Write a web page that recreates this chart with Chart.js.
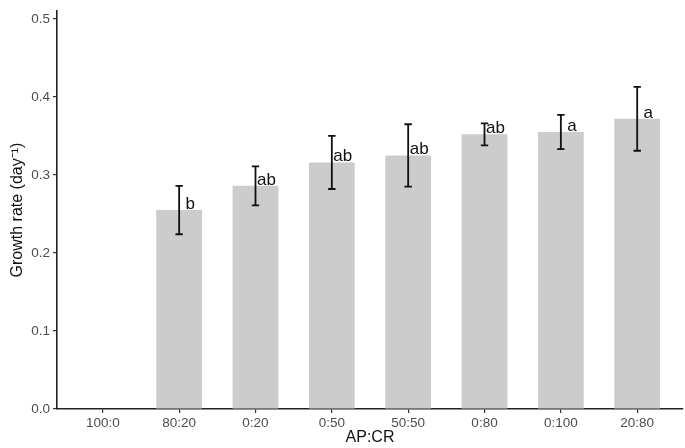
<!DOCTYPE html>
<html>
<head>
<meta charset="utf-8">
<script src="https://cdn.jsdelivr.net/npm/chart.js@4"></script>
<style>
  body { margin: 0; background: #fff; }
  .chart-box { width: 685px; height: 448px; }
</style>
</head>
<body>
<div class="chart-box"><canvas id="myChart01"></canvas></div>
<script>
// ----------------데이터----------------
const categories = ["100:0", "80:20", "0:20", "0:50", "50:50", "0:80", "0:100", "20:80"];
const growthMean = [null, 0.255, 0.286, 0.316, 0.325, 0.352, 0.355, 0.372];
const growthErr = [null, 0.031, 0.025, 0.034, 0.040, 0.014, 0.022, 0.041];
const letters = ["", "b", "ab", "ab", "ab", "ab", "a", "a"];
const yTicks = [0, 0.1, 0.2, 0.3, 0.4, 0.5];

Chart.defaults.font.family = "'Liberation Sans', Arial, sans-serif";

// 에러바 + 유의성 문자
const errorBarPlugin = {
  id: "errorBars",
  afterDatasetsDraw(chart) {
    const { ctx, scales } = chart;
    const x = scales.x;
    const y = scales.y;
    ctx.save();
    categories.forEach((c, i) => {
      if (growthMean[i] == null) return;
      const px = x.getPixelForValue(i);
      const top = y.getPixelForValue(growthMean[i] + growthErr[i]);
      const bot = y.getPixelForValue(growthMean[i] - growthErr[i]);
      ctx.strokeStyle = "#111";
      ctx.lineWidth = 1.8;
      ctx.beginPath();
      ctx.moveTo(px, top);
      ctx.lineTo(px, bot);
      ctx.moveTo(px - 3.7, top);
      ctx.lineTo(px + 3.7, top);
      ctx.moveTo(px - 3.7, bot);
      ctx.lineTo(px + 3.7, bot);
      ctx.stroke();

      // 문자 (에러바 오른쪽, 막대 윗면 기준)
      ctx.fillStyle = "#111";
      ctx.font = "17px 'Liberation Sans', Arial, sans-serif";
      ctx.textAlign = "center";
      ctx.textBaseline = "alphabetic";
      ctx.fillText(letters[i], px + 11, y.getPixelForValue(growthMean[i]) - 1);
    });
    ctx.restore();
  },
};

const config = {
  type: "bar",
  data: {
    datasets: [
      {
        data: categories.map((c, i) => ({ x: i, y: growthMean[i] })),
        backgroundColor: "#cccccc",
        barPercentage: 0.6,
        categoryPercentage: 1,
      },
    ],
  },
  options: {
    maintainAspectRatio: false,
    responsive: true,
    animation: false,
    layout: { padding: { top: 0, right: 2, bottom: 0, left: 0 } },
    plugins: {
      legend: { display: false },
      tooltip: { enabled: false },
    },
    scales: {
      x: {
        type: "linear",
        min: -0.6,
        max: 7.6,
        offset: false,
        afterBuildTicks(scale) {
          scale.ticks = categories.map((c, i) => ({ value: i }));
        },
        afterFit(scale) {
          scale.height = 39;
        },
        ticks: {
          callback: (v) => categories[v],
          color: "#4d4d4d",
          font: { size: 13.5 },
          padding: 2,
          maxRotation: 0,
          autoSkip: false,
        },
        grid: {
          offset: false,
          drawOnChartArea: false,
          tickLength: 4,
          color: "#333",
          lineWidth: 1.2,
        },
        border: { display: true, color: "#222", width: 1.6 },
        title: {
          display: true,
          text: "AP:CR",
          color: "#111",
          font: { size: 16 },
          padding: { top: 0, bottom: 1 },
        },
      },
      y: {
        min: 0,
        max: 0.51,
        afterBuildTicks(scale) {
          scale.ticks = yTicks.map((v) => ({ value: v }));
        },
        afterFit(scale) {
          scale.width = 57;
        },
        ticks: {
          callback: (v) => v.toFixed(1),
          color: "#4d4d4d",
          font: { size: 13.5 },
          padding: 3,
        },
        grid: {
          drawOnChartArea: false,
          tickLength: 4,
          color: "#333",
          lineWidth: 1.2,
        },
        border: { display: true, color: "#222", width: 1.6 },
        title: {
          display: true,
          text: "Growth rate (day⁻¹)",
          color: "#111",
          font: { size: 16 },
          padding: { top: 8, bottom: 0 },
        },
      },
    },
  },
  plugins: [errorBarPlugin],
};
const ctx = document.getElementById("myChart01");
new Chart(ctx, config);
</script>
</body>
</html>
